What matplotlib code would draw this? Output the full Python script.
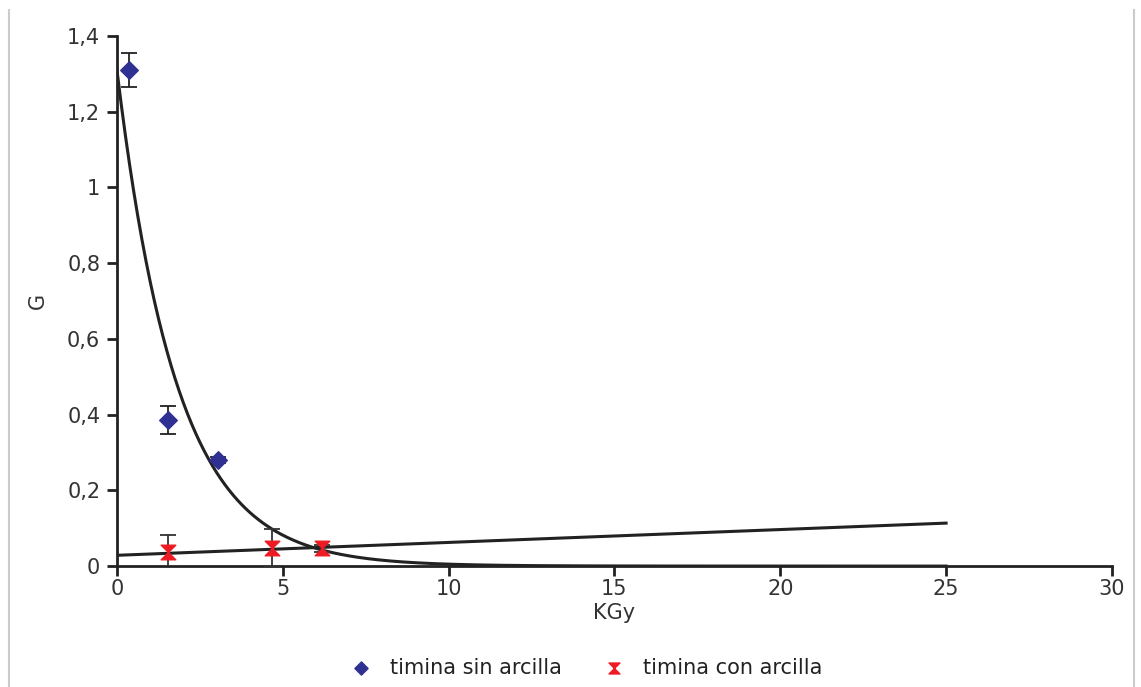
import matplotlib.pyplot as plt
import numpy as np
from matplotlib.path import Path
from matplotlib.lines import Line2D
from matplotlib.ticker import FuncFormatter

plt.rcParams['font.family'] = ['DejaVu Sans']

# timina sin arcilla
sin_x = [0.35, 1.55, 3.05]
sin_y = [1.31, 0.386, 0.28]
sin_err = [0.045, 0.037, 0.008]

# timina con arcilla
con_x = [1.55, 4.67, 6.18]
con_y = [0.036, 0.048, 0.047]
con_err = [0.046, 0.05, 0.01]

# trend lines (fit parameters)
exp_a, exp_k = 1.31, 0.555
lin_b, lin_m = 0.0285, 0.0034
trend_xmax = 25

xticks = [0, 5, 10, 15, 20, 25, 30]
yticks = [0, 0.2, 0.4, 0.6, 0.8, 1.0, 1.2, 1.4]

blue = '#2e3192'
red = '#ed1c24'

hourglass = Path([(-1, 1), (1, 1), (-1, -1), (1, -1), (-1, 1)],
                 [Path.MOVETO, Path.LINETO, Path.LINETO, Path.LINETO, Path.CLOSEPOLY])

fig = plt.figure(figsize=(11.41, 6.87), dpi=100)
ax = fig.add_axes([0.1025, 0.176, 0.872, 0.7716])

xs = np.linspace(0, trend_xmax, 400)
ax.plot(xs, exp_a * np.exp(-exp_k * xs), color='#222222', lw=2.2, zorder=2)
ax.plot(xs, lin_b + lin_m * xs, color='#222222', lw=2.2, zorder=2)

ax.errorbar(sin_x, sin_y, yerr=sin_err, fmt='none', ecolor='#222222',
            elinewidth=1.3, capsize=6, capthick=1.3, zorder=3)
ax.errorbar(con_x, con_y, yerr=con_err, fmt='none', ecolor='#333333',
            elinewidth=1.3, capsize=6, capthick=1.3, zorder=3)
ax.scatter(sin_x, sin_y, marker='D', s=80, color=blue, zorder=4,
           label='timina sin arcilla')
ax.scatter(con_x, con_y, marker=hourglass, s=110, color=red, zorder=4,
           label='timina con arcilla')

ax.set_xlim(0, 30)
ax.set_ylim(0, 1.4)
ax.set_xticks(xticks)
ax.set_yticks(yticks)
ax.yaxis.set_major_formatter(FuncFormatter(lambda v, p: ('%g' % v).replace('.', ',')))

for s in ['top', 'right']:
    ax.spines[s].set_visible(False)
for s in ['left', 'bottom']:
    ax.spines[s].set_linewidth(2)
    ax.spines[s].set_color('#222222')
ax.tick_params(direction='out', length=7, width=2, color='#222222',
               labelsize=15, labelcolor='#333333')
ax.tick_params(axis='x', pad=2)
ax.tick_params(axis='y', pad=5)

ax.set_xlabel('KGy', fontsize=15, color='#333333', labelpad=3)
ax.set_ylabel('G', fontsize=15, color='#333333', labelpad=14)

ax.legend(loc='center', bbox_to_anchor=(0.467, -0.192), ncol=2,
          frameon=False, fontsize=15, handletextpad=0.4, columnspacing=1.5,
          markerscale=0.75, labelcolor='#222222')

# thin frame lines at the image edges
fig.add_artist(Line2D([0.008, 0.008], [0.0, 0.985], color='#cccccc', lw=1.5))
fig.add_artist(Line2D([0.994, 0.994], [0.0, 0.985], color='#cccccc', lw=1.5))

fig.savefig('out.png', dpi=100)
